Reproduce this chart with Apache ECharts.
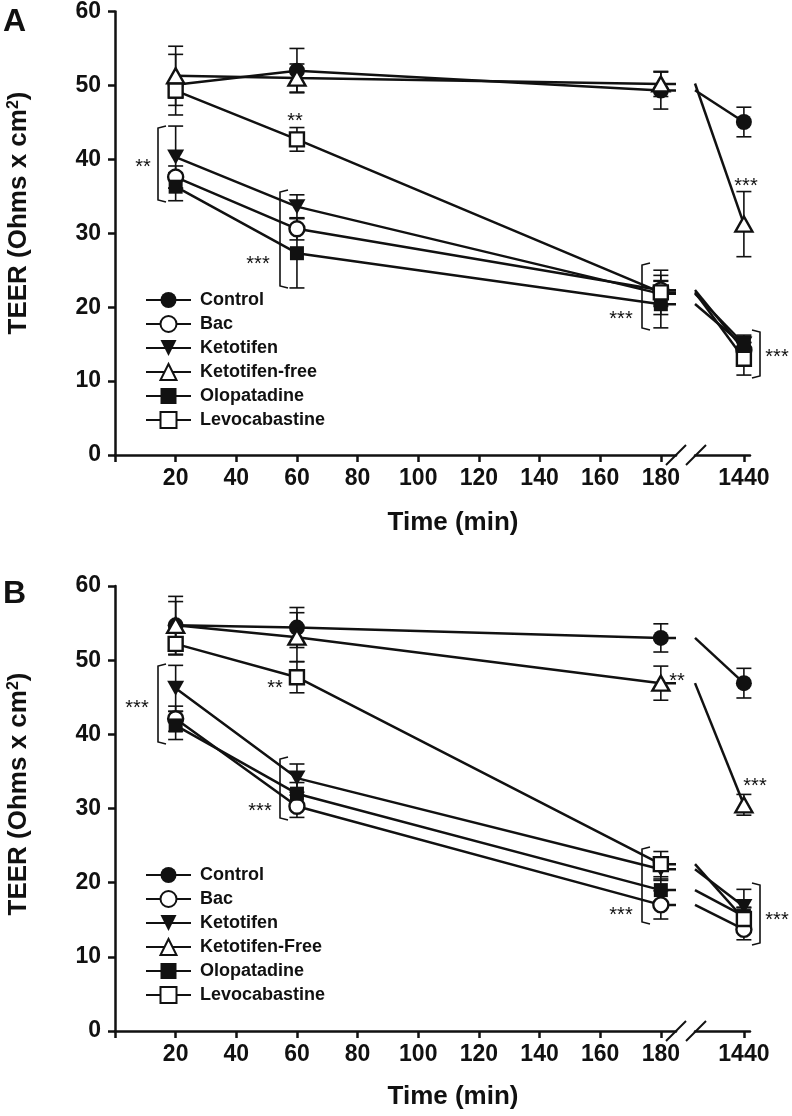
<!DOCTYPE html>
<html><head><meta charset="utf-8">
<script src="https://cdn.jsdelivr.net/npm/echarts@6/dist/echarts.min.js"></script>
<style>html,body{margin:0;padding:0;background:#fff}#c{width:792px;height:1116px}</style>
</head><body><div id="c"></div>
<script>
// ---------- DATA ----------
const times = [20, 60, 180, 1440];
const xTickLabels = [20, 40, 60, 80, 100, 120, 140, 160, 180];
const xTickMarks = [0, 20, 40, 60, 80, 100, 120, 140, 160, 180];
const lateTick = [1440];
const namesA = ['Control', 'Bac', 'Ketotifen', 'Ketotifen-free', 'Olopatadine', 'Levocabastine'];
const namesB = ['Control', 'Bac', 'Ketotifen', 'Ketotifen-Free', 'Olopatadine', 'Levocabastine'];

// Panel A means (TEER, Ohms x cm2) at 20, 60, 180, 1440 min
const aControl  = [50.1, 52.0, 49.3, 45.0];
const aBac      = [37.6, 30.6, 22.3, 14.2];
const aKeto     = [40.3, 33.6, 21.8, 15.0];
const aKetoFree = [51.3, 51.0, 50.2, 31.2];
const aOlo      = [36.3, 27.3, 20.4, 14.8];
const aLevo     = [49.3, 42.7, 22.0, 13.0];
// Panel A error bars
const aControlErr  = [4.1, 3.0, 2.5, 2.0];
const aBacErr      = [1.5, 1.5, 2.0, 1.0];
const aKetoErr     = [4.2, 1.6, 1.7, 1.2];
const aKetoFreeErr = [4.0, 1.9, 1.7, 4.4];
const aOloErr      = [1.9, 4.7, 3.2, 1.2];
const aLevoErr     = [1.0, 1.6, 3.0, 2.2];

// Panel B means
const bControl  = [54.7, 54.4, 53.0, 46.9];
const bBac      = [42.1, 30.3, 17.0, 13.7];
const bKeto     = [46.2, 34.1, 21.8, 16.8];
const bKetoFree = [54.7, 53.1, 46.9, 30.5];
const bOlo      = [41.2, 32.0, 19.0, 15.5];
const bLevo     = [52.2, 47.7, 22.5, 15.1];
// Panel B error bars
const bControlErr  = [3.9, 2.7, 1.9, 2.0];
const bBacErr      = [1.7, 1.5, 1.9, 1.4];
const bKetoErr     = [3.1, 1.9, 1.5, 2.3];
const bKetoFreeErr = [3.2, 3.3, 2.3, 1.4];
const bOloErr      = [1.9, 1.5, 1.5, 1.2];
const bLevoErr     = [1.5, 2.1, 1.7, 1.5];

// ---------- STYLE / LAYOUT ----------
const FONT = '"Liberation Sans", Arial, Helvetica, sans-serif';
const INK = '#111';
const LEFT_MAX = 185, RIGHT_MIN = 1400, RIGHT_MAX = 1445;
const markerStyles = [
  {symbol: 'circle', size: 16, rotate: 0, fill: INK},
  {symbol: 'circle', size: 15, rotate: 0, fill: '#fff'},
  {symbol: 'triangle', size: [17, 15], rotate: 180, fill: INK},
  {symbol: 'triangle', size: [17, 15], rotate: 0, fill: '#fff'},
  {symbol: 'rect', size: 14, rotate: 0, fill: INK},
  {symbol: 'rect', size: 14, rotate: 0, fill: '#fff'}
];
const panels = [
  {names: namesA, means: [aControl, aBac, aKeto, aKetoFree, aOlo, aLevo],
   errs: [aControlErr, aBacErr, aKetoErr, aKetoFreeErr, aOloErr, aLevoErr],
   top: 11, height: 444, legendTop: 285},
  {names: namesB, means: [bControl, bBac, bKeto, bKetoFree, bOlo, bLevo],
   errs: [bControlErr, bBacErr, bKetoErr, bKetoFreeErr, bOloErr, bLevoErr],
   top: 586, height: 445, legendTop: 860}
];

const grids = [], xAxes = [], yAxes = [], series = [], legends = [];
const axisLineStyle = {color: INK, width: 2.5};
const labelStyle = {fontSize: 23, fontWeight: 'bold', color: INK, fontFamily: FONT,
  formatter: function (v) { return String(v); }};

function errorSeries(id, gi, rows) {
  return {
    id: id, type: 'custom', coordinateSystem: 'cartesian2d',
    xAxisIndex: gi, yAxisIndex: gi, z: 1, silent: true,
    encode: {x: 0, y: 1},
    data: rows,
    renderItem: function (params, api) {
      const x = api.value(0), y = api.value(1), e = api.value(2);
      const t = api.coord([x, y + e]), b = api.coord([x, y - e]);
      const hw = 7.5, st = {stroke: INK, lineWidth: 1.6};
      return {type: 'group', children: [
        {type: 'line', shape: {x1: t[0], y1: t[1], x2: b[0], y2: b[1]}, style: st},
        {type: 'line', shape: {x1: t[0] - hw, y1: t[1], x2: t[0] + hw, y2: t[1]}, style: st},
        {type: 'line', shape: {x1: b[0] - hw, y1: b[1], x2: b[0] + hw, y2: b[1]}, style: st}
      ]};
    }
  };
}

panels.forEach(function (p, pi) {
  const gL = pi * 2, gR = pi * 2 + 1;
  grids.push({left: 115, width: 561, top: p.top, height: p.height});
  grids.push({left: 695, width: 55, top: p.top, height: p.height});
  xAxes.push({
    gridIndex: gL, type: 'value', min: 0, max: LEFT_MAX, interval: 20,
    axisLine: {show: true, lineStyle: axisLineStyle},
    axisTick: {show: true, length: 7, lineStyle: {width: 2.5, color: INK}, customValues: xTickMarks},
    axisLabel: {show: true, margin: 12, customValues: xTickLabels, ...labelStyle},
    splitLine: {show: false}
  });
  xAxes.push({
    gridIndex: gR, type: 'value', min: RIGHT_MIN, max: RIGHT_MAX,
    axisLine: {show: true, lineStyle: axisLineStyle},
    axisTick: {show: true, length: 7, lineStyle: {width: 2.5, color: INK}, customValues: lateTick},
    axisLabel: {show: true, margin: 12, customValues: lateTick, ...labelStyle},
    splitLine: {show: false}
  });
  yAxes.push({
    gridIndex: gL, type: 'value', min: 0, max: 60, interval: 10,
    axisLine: {show: true, lineStyle: axisLineStyle},
    axisTick: {show: true, length: 7, lineStyle: {width: 2.5, color: INK}},
    axisLabel: {show: true, margin: 14, ...labelStyle},
    splitLine: {show: false}
  });
  yAxes.push({gridIndex: gR, type: 'value', min: 0, max: 60, show: false, splitLine: {show: false}});

  const errRowsL = [], errRowsR = [];
  p.names.forEach(function (name, si) {
    const m = p.means[si], er = p.errs[si], ms = markerStyles[si];
    const itemStyle = {color: ms.fill, borderColor: INK, borderWidth: ms.fill === '#fff' ? 2.4 : 0};
    const early = times.slice(0, 3).map(function (t, k) { return [t, m[k]]; });
    early.push({value: [LEFT_MAX, m[2]], symbol: 'none'});
    series.push({
      name: name, type: 'line', xAxisIndex: gL, yAxisIndex: gL,
      symbol: ms.symbol, symbolSize: ms.size, symbolRotate: ms.rotate, showAllSymbol: true,
      itemStyle: itemStyle, lineStyle: {color: INK, width: 2.5},
      data: early, z: 3, animation: false
    });
    series.push({
      name: 'late-' + pi + '-' + si, type: 'line', xAxisIndex: gR, yAxisIndex: gR,
      symbol: ms.symbol, symbolSize: ms.size, symbolRotate: ms.rotate, showAllSymbol: true,
      itemStyle: itemStyle, lineStyle: {color: INK, width: 2.5},
      data: [{value: [RIGHT_MIN, m[2]], symbol: 'none'}, [times[3], m[3]]], z: 3, animation: false
    });
    for (let k = 0; k < 3; k++) errRowsL.push([times[k], m[k], er[k]]);
    errRowsR.push([times[3], m[3], er[3]]);
  });
  series.push(errorSeries('errL' + pi, gL, errRowsL));
  series.push(errorSeries('errR' + pi, gR, errRowsR));

  legends.push({
    data: p.names, orient: 'vertical', left: 140, top: p.legendTop,
    itemWidth: 45, itemHeight: 20, itemGap: 4, selectedMode: false,
    textStyle: {fontSize: 18, fontWeight: 'bold', color: INK, fontFamily: FONT, padding: [0, 0, 0, 4], lineHeight: 20}
  });
});

// ---------- ANNOTATIONS (decorations) ----------
const g = [];
function txt(x, y, s, size, weight, align) {
  g.push({type: 'text', x: x, y: y, silent: true, style: {text: s, fontSize: size, fontWeight: weight || 'normal',
    fontFamily: FONT, fill: INK, align: align || 'center', verticalAlign: 'middle'}});
}
function star(x, y, s) { txt(x, y + 4, s, 20, 'normal', 'center'); }
function bracketL(x, y1, y2) {
  g.push({type: 'polyline', silent: true, shape: {points: [[x + 8, y1], [x, y1 + 2], [x, y2 - 2], [x + 8, y2]]},
    style: {stroke: INK, lineWidth: 1.6, fill: null}});
}
function bracketR(x, y1, y2) {
  g.push({type: 'polyline', silent: true, shape: {points: [[x - 8, y1], [x, y1 + 2], [x, y2 - 2], [x - 8, y2]]},
    style: {stroke: INK, lineWidth: 1.6, fill: null}});
}
function slashes(axisY) {
  [[666, 686], [686, 706]].forEach(function (s) {
    g.push({type: 'line', silent: true, shape: {x1: s[0], y1: axisY + 10, x2: s[1], y2: axisY - 10},
      style: {stroke: INK, lineWidth: 2}});
  });
}
// Panel letters
txt(3, 22, 'A', 32, 'bold', 'left');
txt(3, 594, 'B', 32, 'bold', 'left');
// axis titles
[[213], [794]].forEach(function (c) {
  g.push({type: 'text', x: 19, y: c[0], rotation: Math.PI / 2, silent: true,
    style: {text: 'TEER (Ohms x cm{sup|2})', fontSize: 26, fontWeight: 'bold', fontFamily: FONT, fill: INK,
      align: 'center', verticalAlign: 'middle',
      rich: {sup: {fontSize: 16, fontWeight: 'bold', fontFamily: FONT, fill: INK, verticalAlign: 'top', padding: [0, 0, 10, 0]}}}});
});
txt(453, 523, 'Time (min)', 26, 'bold', 'center');
txt(453, 1097, 'Time (min)', 26, 'bold', 'center');
slashes(455);
slashes(1031);
// Panel A marks
bracketL(158, 126, 202); star(143, 163, '**');
star(295, 117, '**');
bracketL(280, 190, 288); star(258, 260, '***');
bracketL(642, 263, 330); star(621, 315, '***');
bracketR(760, 330, 378); star(777, 353, '***');
star(746, 182, '***');
// Panel B marks
bracketL(158, 664, 744); star(137, 704, '***');
star(275, 684, '**');
bracketL(280, 757, 820); star(260, 807, '***');
star(677, 677, '**');
star(755, 782, '***');
bracketL(642, 847, 924); star(621, 911, '***');
bracketR(760, 883, 945); star(777, 916, '***');

const chart = echarts.init(document.getElementById('c'), null, {renderer: 'canvas'});
chart.setOption({
  animation: false,
  backgroundColor: '#fff',
  textStyle: {fontFamily: FONT},
  grid: grids, xAxis: xAxes, yAxis: yAxes, legend: legends,
  series: series, graphic: g
});
</script></body></html>
